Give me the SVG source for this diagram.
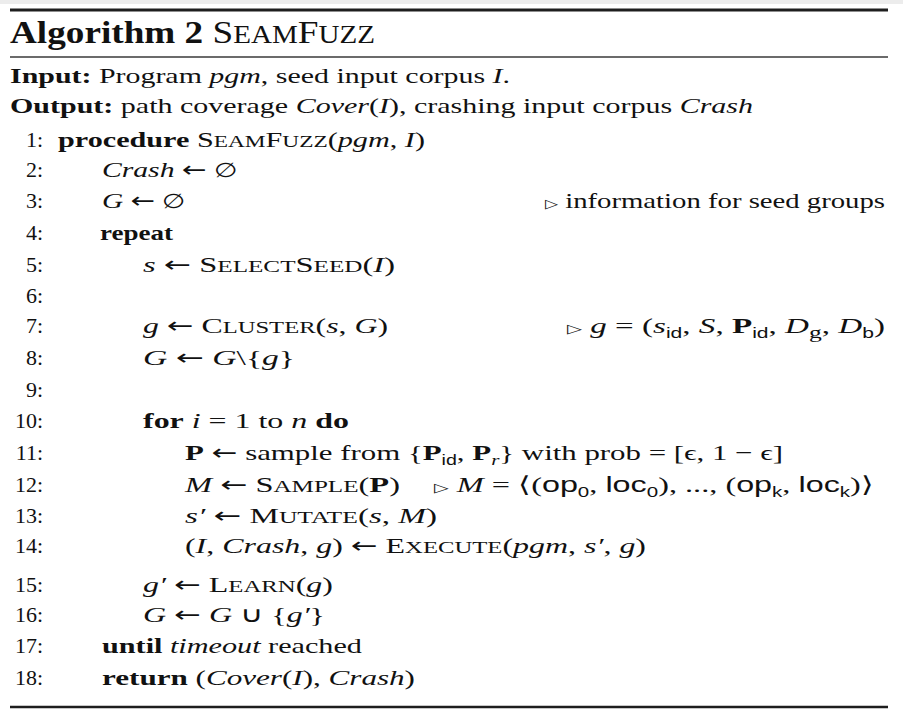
<svg xmlns="http://www.w3.org/2000/svg" width="903" height="720" viewBox="0 0 903 720">
<style>
text{font-family:"Liberation Serif","Times New Roman",serif;font-size:22px;fill:#111}
.b{font-weight:bold}
.i{font-style:italic;font-family:"Liberation Serif","Times New Roman",serif}
.sc{font-size:17px}
.tsc{font-size:25px}
.sub{font-family:"Liberation Sans",Arial,sans-serif;font-size:14px}
.subi{font-style:italic;font-size:15px}
.tri{font-family:"DejaVu Sans",sans-serif;font-size:13px}
.ar{font-family:"DejaVu Sans",sans-serif;font-size:22px}
.es{font-family:"DejaVu Serif",serif;font-size:20px}
.num{text-anchor:end}
</style>
<rect x="0" y="0" width="903" height="720" fill="#ffffff"/>
<rect x="0" y="0" width="903" height="4" fill="#ececec"/>
<g id="rules" stroke="#1e1e1e">
<line x1="10" y1="10" x2="888" y2="10" stroke-width="3"/>
<line x1="10" y1="57" x2="888" y2="57" stroke-width="1.4" stroke="#3a3a3a"/>
<line x1="10" y1="707" x2="888" y2="707" stroke-width="2.6"/>
</g>
<g id="title">
<text x="10" y="43" style="font-size:32px" textLength="365" lengthAdjust="spacingAndGlyphs"><tspan class="b">Algorithm 2 </tspan>S<tspan class="tsc">EAM</tspan>F<tspan class="tsc">UZZ</tspan></text>
</g>
<g id="io">
<text x="10" y="83" textLength="500" lengthAdjust="spacingAndGlyphs"><tspan class="b">Input:</tspan> Program <tspan class="i">pgm</tspan>, seed input corpus <tspan class="i">I</tspan>.</text>
<text x="10" y="113" textLength="743" lengthAdjust="spacingAndGlyphs"><tspan class="b">Output:</tspan> path coverage <tspan class="i">Cover</tspan>(<tspan class="i">I</tspan>), crashing input corpus <tspan class="i">Crash</tspan></text>
</g>
<g id="numbers">
<text class="num" x="43" y="147">1:</text>
<text class="num" x="43" y="177">2:</text>
<text class="num" x="43" y="208">3:</text>
<text class="num" x="43" y="240">4:</text>
<text class="num" x="43" y="272">5:</text>
<text class="num" x="43" y="303">6:</text>
<text class="num" x="43" y="333">7:</text>
<text class="num" x="43" y="365">8:</text>
<text class="num" x="43" y="397">9:</text>
<text class="num" x="43" y="428">10:</text>
<text class="num" x="43" y="460">11:</text>
<text class="num" x="43" y="492">12:</text>
<text class="num" x="43" y="523">13:</text>
<text class="num" x="43" y="553">14:</text>
<text class="num" x="43" y="592">15:</text>
<text class="num" x="43" y="622">16:</text>
<text class="num" x="43" y="653">17:</text>
<text class="num" x="43" y="685">18:</text>
</g>
<g id="body">
<text id="l1" x="58" y="147" textLength="367" lengthAdjust="spacingAndGlyphs"><tspan class="b">procedure</tspan> S<tspan class="sc">EAM</tspan>F<tspan class="sc">UZZ</tspan>(<tspan class="i">pgm</tspan>, <tspan class="i">I</tspan>)</text>
<text id="l2" x="102" y="177" textLength="135" lengthAdjust="spacingAndGlyphs"><tspan class="i">Crash</tspan> <tspan class="ar">←</tspan> <tspan class="es">∅</tspan></text>
<text id="l3" x="102" y="208" textLength="83" lengthAdjust="spacingAndGlyphs"><tspan class="i">G</tspan> <tspan class="ar">←</tspan> <tspan class="es">∅</tspan></text>
<text id="c3" x="545" y="208" textLength="340" lengthAdjust="spacingAndGlyphs"><tspan class="tri">▷</tspan> information for seed groups</text>
<text id="l4" x="100" y="240" class="b" textLength="73" lengthAdjust="spacingAndGlyphs">repeat</text>
<text id="l5" x="143" y="272" textLength="252" lengthAdjust="spacingAndGlyphs"><tspan class="i">s</tspan> <tspan class="ar">←</tspan> S<tspan class="sc">ELECT</tspan>S<tspan class="sc">EED</tspan>(<tspan class="i">I</tspan>)</text>
<text id="l7" x="143" y="333" textLength="245" lengthAdjust="spacingAndGlyphs"><tspan class="i">g</tspan> <tspan class="ar">←</tspan> C<tspan class="sc">LUSTER</tspan>(<tspan class="i">s</tspan>, <tspan class="i">G</tspan>)</text>
<text id="c7" x="567" y="333" textLength="318" lengthAdjust="spacingAndGlyphs"><tspan class="tri">▷</tspan> <tspan class="i">g</tspan> = (<tspan class="i">s</tspan><tspan class="sub" dy="5">id</tspan><tspan dy="-5">, </tspan><tspan class="i">S</tspan>, <tspan class="b">P</tspan><tspan class="sub" dy="5">id</tspan><tspan dy="-5">, </tspan><tspan class="i">D</tspan><tspan class="sc" dy="5">g</tspan><tspan dy="-5">, </tspan><tspan class="i">D</tspan><tspan class="sub" dy="5">b</tspan><tspan dy="-5">)</tspan></text>
<text id="l8" x="143" y="365" textLength="152" lengthAdjust="spacingAndGlyphs"><tspan class="i">G</tspan> <tspan class="ar">←</tspan> <tspan class="i">G</tspan>\{<tspan class="i">g</tspan>}</text>
<text id="l10" x="143" y="428" textLength="206" lengthAdjust="spacingAndGlyphs"><tspan class="b">for</tspan> <tspan class="i">i</tspan> = 1 to <tspan class="i">n</tspan> <tspan class="b">do</tspan></text>
<text id="l11" x="185" y="460" textLength="598" lengthAdjust="spacingAndGlyphs"><tspan class="b">P</tspan> <tspan class="ar">←</tspan> sample from {<tspan class="b">P</tspan><tspan class="sub" dy="5">id</tspan><tspan dy="-5">, </tspan><tspan class="b">P</tspan><tspan class="subi" dy="5">r</tspan><tspan dy="-5">} with prob = [ϵ, 1 − ϵ]</tspan></text>
<text id="l12" x="185" y="492" textLength="215" lengthAdjust="spacingAndGlyphs"><tspan class="i">M</tspan> <tspan class="ar">←</tspan> S<tspan class="sc">AMPLE</tspan>(<tspan class="b">P</tspan>)</text>
<text id="c12" x="434" y="492" textLength="440" lengthAdjust="spacingAndGlyphs"><tspan class="tri">▷</tspan> <tspan class="i">M</tspan> = ⟨(<tspan style="font-family:'Liberation Sans',Arial,sans-serif">op</tspan><tspan class="sub" dy="5">0</tspan><tspan dy="-5">, </tspan><tspan style="font-family:'Liberation Sans',Arial,sans-serif">loc</tspan><tspan class="sub" dy="5">0</tspan><tspan dy="-5">), ..., (</tspan><tspan style="font-family:'Liberation Sans',Arial,sans-serif">op</tspan><tspan class="sub" dy="5">k</tspan><tspan dy="-5">, </tspan><tspan style="font-family:'Liberation Sans',Arial,sans-serif">loc</tspan><tspan class="sub" dy="5">k</tspan><tspan dy="-5">)⟩</tspan></text>
<text id="l13" x="185" y="523" textLength="252" lengthAdjust="spacingAndGlyphs"><tspan class="i">s′</tspan> <tspan class="ar">←</tspan> M<tspan class="sc">UTATE</tspan>(<tspan class="i">s</tspan>, <tspan class="i">M</tspan>)</text>
<text id="l14" x="185" y="553" textLength="461" lengthAdjust="spacingAndGlyphs">(<tspan class="i">I</tspan>, <tspan class="i">Crash</tspan>, <tspan class="i">g</tspan>) <tspan class="ar">←</tspan> E<tspan class="sc">XECUTE</tspan>(<tspan class="i">pgm</tspan>, <tspan class="i">s′</tspan>, <tspan class="i">g</tspan>)</text>
<text id="l15" x="143" y="592" textLength="190" lengthAdjust="spacingAndGlyphs"><tspan class="i">g′</tspan> <tspan class="ar">←</tspan> L<tspan class="sc">EARN</tspan>(<tspan class="i">g</tspan>)</text>
<text id="l16" x="143" y="622" textLength="182" lengthAdjust="spacingAndGlyphs"><tspan class="i">G</tspan> <tspan class="ar">←</tspan> <tspan class="i">G</tspan> ∪ {<tspan class="i">g′</tspan>}</text>
<text id="l17" x="102" y="653" textLength="260" lengthAdjust="spacingAndGlyphs"><tspan class="b">until</tspan> <tspan class="i">timeout</tspan> reached</text>
<text id="l18" x="102" y="685" textLength="313" lengthAdjust="spacingAndGlyphs"><tspan class="b">return</tspan> (<tspan class="i">Cover</tspan>(<tspan class="i">I</tspan>), <tspan class="i">Crash</tspan>)</text>
</g>
</svg>
